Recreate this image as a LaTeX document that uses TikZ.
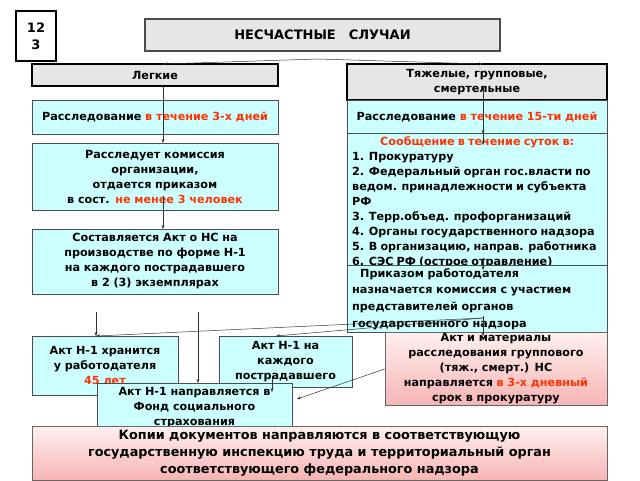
\documentclass[tikz,border=0pt]{standalone}
\usepackage{fontspec}
\setmainfont{DejaVu Sans}
\usetikzlibrary{arrows.meta}
\definecolor{cy}{HTML}{CCFFFF}
\definecolor{gr}{HTML}{E6E6E6}
\definecolor{rd}{HTML}{FF3300}
\definecolor{pk1}{HTML}{FFF0F0}
\definecolor{pk2}{HTML}{F6B4B4}
\newcommand{\rt}[1]{\textcolor{rd}{#1}}
\begin{document}
\begin{tikzpicture}[x=1pt,y=-1pt,
  box/.style={draw=black!70,line width=0.6pt,inner sep=0pt,fill=cy},
  gbox/.style={draw=black,line width=1.8pt,inner sep=0pt,fill=gr},
  pbox/.style={draw=black!60,line width=0.6pt,inner sep=0pt,top color=pk1,bottom color=pk2},
  txt/.style={font=\bfseries\fontsize{11.2}{15}\selectfont,align=center,inner sep=1pt},
  arr/.style={-{Stealth[length=4pt,width=3pt]},line width=0.5pt,black!80}]
\useasboundingbox (0,0) rectangle (640,480);
\fill[white] (0,0) rectangle (640,480);
% number
\node[draw=black,line width=2.2pt,fill=white,minimum width=40,minimum height=50,inner sep=0pt,font=\bfseries\fontsize{13}{17}\selectfont,align=center] (num) at (36,36) {12\\3};
\node[draw=black!70,line width=1.2pt,fill=gr,minimum width=355,minimum height=32,font=\bfseries\fontsize{13}{15}\selectfont] (title) at (322.5,35) {НЕСЧАСТНЫЕ\quad СЛУЧАИ};
\node[gbox,minimum width=246,minimum height=22,txt] (leg) at (155,75) {Легкие};
\node[gbox,minimum width=260,minimum height=36,txt] (tyazh) at (477,82) {Тяжелые, групповые,\\смертельные};
% left column
\node[box,minimum width=246,minimum height=34,txt,text width=240] (r3) at (155,117) {Расследование \rt{в течение 3-х дней}};
\node[box,minimum width=246,minimum height=67,txt,text width=240] (kom) at (155,176.5) {Расследует комиссия\\организации,\\отдается приказом\\в сост. \rt{не менее 3 человек}};
\node[box,minimum width=246,minimum height=65,txt,text width=240] (akt) at (155,261.5) {Составляется Акт о НС на производстве по форме Н-1 на каждого пострадавшего\\в 2 (3) экземплярах};
% right column
\node[box,minimum width=260,minimum height=33,txt,text width=254] (r15) at (477,117) {Расследование \rt{в течение 15-ти дней}};
\node[box,minimum width=260,minimum height=135] (soob) at (477,200.5) {};
\node[anchor=north west,inner sep=0pt,text width=250,align=left,font=\bfseries\fontsize{9.3}{13.4}\selectfont] (soobt) at (352,136)
 {\centering\fontsize{11.2}{15}\selectfont\rt{Сообщение в течение суток в:}\par
  \raggedright 1. Прокуратуру\\2. Федеральный орган гос.власти по\\ведом. принадлежности и субъекта РФ\\3. Терр.объед. профорганизаций\\4. Органы государственного надзора\\5. В организацию, направ. работника\\6. СЭС РФ (острое отравление)\\{\fontsize{11}{15}\selectfont 7. В Фонд социального страхования}\par};
\node[box,minimum width=260,minimum height=67] (prik) at (477,298.5) {};
\node[anchor=north west,inner sep=0pt,text width=256,align=left,font=\bfseries\fontsize{11.2}{16.7}\selectfont] (prikt) at (352,268) {\hspace*{8pt}Приказом работодателя\\назначается комиссия с участием\\представителей органов\\государственного надзора};
% bottom
\node[box,minimum width=146,minimum height=59,txt,text width=142] (hran) at (105,365.5) {Акт Н-1 хранится\\у работодателя\\\rt{45 лет}};
\node[box,minimum width=133,minimum height=51,txt,text width=130] (kazh) at (285.5,361.5) {Акт Н-1 на\\каждого\\пострадавшего};
\node[pbox,minimum width=222,minimum height=66,txt,text width=218] (mat) at (496,369) {Акт и материалы\\расследования группового\\(тяж., смерт.) НС\\направляется \rt{в 3-х дневный}\\срок в прокуратуру};
\node[box,minimum width=195,minimum height=45] (fond) at (194.5,405.5) {};
\node[anchor=north,txt,text width=190] (fondt) at (194.5,386) {Акт Н-1 направляется в\\Фонд социального\\страхования};
\node[pbox,minimum width=575,minimum height=54,font=\bfseries\fontsize{12.8}{17}\selectfont,align=center,inner sep=0pt] (kop) at (319.5,453) {Копии документов направляются в соответствующую\\государственную инспекцию труда и территориальный орган\\соответствующего федерального надзора};
% arrows
\coordinate (ts) at (318,59);
\draw[arr] (ts) -- (163,64);
\draw[arr] (ts) -- (483,64);
\draw[arr] (163,86) -- (163,143);
\draw[arr] (163,196) -- (163,229);
\draw[arr] (483,86) -- (483,134);
\draw[arr] (483,120) -- (483,145);
\draw[arr] (483,258) -- (483,270);
\draw[arr] (483,316) -- (483,336);
\coordinate (pk) at (483,318);
\draw[arr] (pk) -- (96,336);
\draw[arr] (pk) -- (276,336);
\draw[arr] (96,312) -- (96,336);
\draw[arr] (198,312) -- (198,383);
\draw[arr] (272,378) -- (272,392);
\draw[arr] (mat.west) -- (297,399);
\end{tikzpicture}
\end{document}
